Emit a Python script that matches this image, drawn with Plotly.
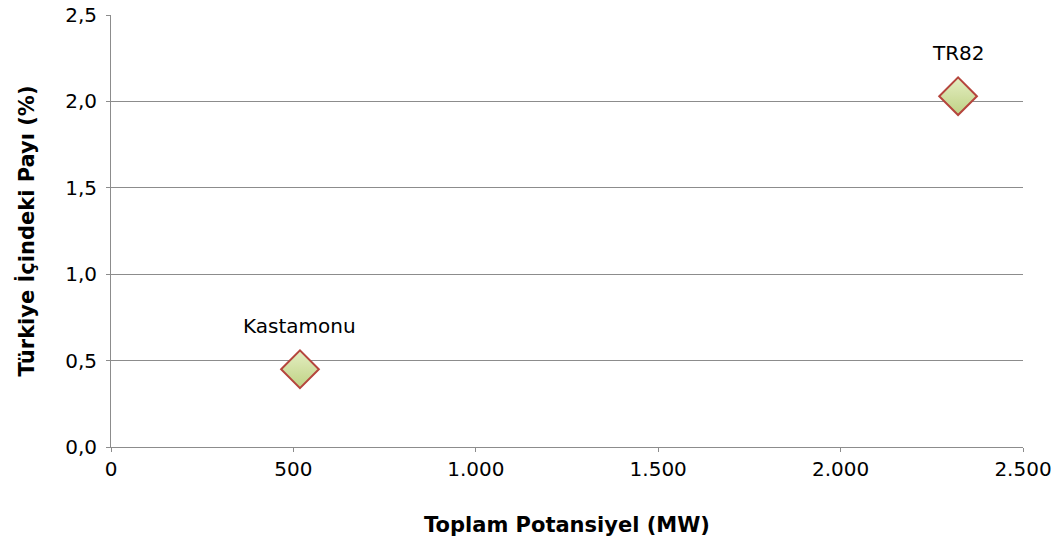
import plotly.graph_objects as go

labels = ["Kastamonu", "TR82"]
potansiyel_mw = [518, 2322]
pay_yuzde = [0.45, 2.03]

x_tickvals = [0, 500, 1000, 1500, 2000, 2500]
x_ticktext = ["0", "500", "1.000", "1.500", "2.000", "2.500"]
y_tickvals = [0, 0.5, 1.0, 1.5, 2.0, 2.5]
y_ticktext = ["0,0", "0,5", "1,0", "1,5", "2,0", "2,5"]

FONT = "'DejaVu Sans', Tahoma, sans-serif"

fig = go.Figure()
fig.add_trace(go.Scatter(
    x=potansiyel_mw, y=pay_yuzde, mode="markers",
    marker=dict(symbol="diamond", size=29, color="#e4eec2",
                gradient=dict(type="vertical", color="#bfd285"),
                line=dict(color="#b5453d", width=2)),
    hoverinfo="skip", showlegend=False,
))
for lab, xv, yv in zip(labels, potansiyel_mw, pay_yuzde):
    fig.add_annotation(x=xv, y=yv, text=lab, showarrow=False, yshift=43,
                       font=dict(size=20, color="#000000", family=FONT))

axis_common = dict(showline=True, linecolor="#8c8c8c", linewidth=1,
                   ticks="outside", ticklen=4, tickcolor="#8c8c8c",
                   tickfont=dict(size=20, color="#000000", family=FONT),
                   ticklabeloverflow="allow",
                   zeroline=False, automargin=False)
fig.update_xaxes(range=[0, 2500], tickvals=x_tickvals, ticktext=x_ticktext,
                 showgrid=False,
                 title=dict(text="<b>Toplam Potansiyel (MW)</b>", standoff=37,
                            font=dict(size=21, color="#000000", family=FONT)),
                 **axis_common)
fig.update_yaxes(range=[0, 2.5], tickvals=y_tickvals, ticktext=y_ticktext,
                 showgrid=True, gridcolor="#8c8c8c", gridwidth=1,
                 ticklabelstandoff=5,
                 title=dict(text="<b>Türkiye İçindeki Payı (%)</b>", standoff=24,
                            font=dict(size=21, color="#000000", family=FONT)),
                 **axis_common)
fig.update_layout(width=1056, height=551,
                  margin=dict(l=111, r=33, t=15, b=104),
                  plot_bgcolor="white", paper_bgcolor="white",
                  font=dict(family=FONT))
# remove the page's default 8px body margin so the figure fills the window
fig.write_html("out.html", config={"displayModeBar": False},
               post_script="document.body.style.margin='0';")
